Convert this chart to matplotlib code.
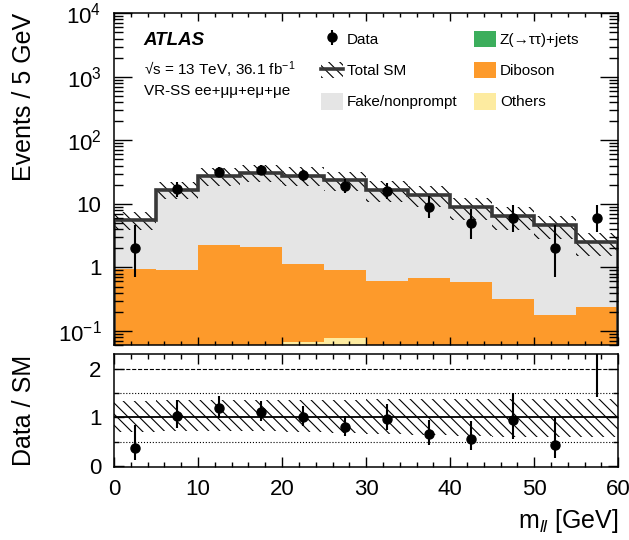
import numpy as np
import matplotlib
matplotlib.use('Agg')
import matplotlib.pyplot as plt
from matplotlib.patches import Patch
from matplotlib.lines import Line2D
from matplotlib.ticker import MultipleLocator, FixedLocator, LogLocator, NullFormatter

plt.rcParams['font.family'] = ['Liberation Sans', 'DejaVu Sans']
plt.rcParams['mathtext.fontset'] = 'custom'
plt.rcParams['mathtext.rm'] = 'Liberation Sans'
plt.rcParams['mathtext.it'] = 'Liberation Sans:italic'
plt.rcParams['mathtext.bf'] = 'Liberation Sans:bold'
plt.rcParams['hatch.linewidth'] = 0.8
plt.rcParams['hatch.color'] = 'black'

# m_ll binning, 5 GeV
bin_edges = [0, 5, 10, 15, 20, 25, 30, 35, 40, 45, 50, 55, 60]

# observed events and asymmetric poisson errors
data = [2, 17, 32, 34, 28, 19, 16, 9, 5, 6, 2, 6]
data_err_dn = [1.29, 4.08, 5.62, 5.80, 5.25, 4.32, 3.95, 2.96, 2.16, 2.40, 1.29, 2.40]
data_err_up = [2.64, 5.20, 6.72, 6.89, 6.36, 5.44, 5.08, 4.11, 3.38, 3.58, 2.64, 3.58]

# background expectations (stacked bottom -> top: others, ztt, diboson, fake)
others = [0.01, 0.01, 0.03, 0.04, 0.067, 0.075, 0.04, 0.03, 0.02, 0.01, 0.01, 0.01]
ztautau = [0.0, 0.0, 0.0, 0.0, 0.0, 0.0, 0.0, 0.0, 0.0, 0.0, 0.0, 0.0]
diboson = [0.93, 0.91, 2.23, 2.04, 1.063, 0.835, 0.56, 0.65, 0.57, 0.31, 0.17, 0.224]
fake = [4.56, 15.5, 24.7, 28.4, 26.6, 22.8, 15.9, 13.1, 8.4, 6.1, 4.47, 2.32]

# relative uncertainty on total SM
sm_rel_up = [0.33, 0.35, 0.35, 0.35, 0.36, 0.36, 0.37, 0.37, 0.37, 0.37, 0.38, 0.38]
sm_rel_dn = [0.30, 0.28, 0.28, 0.28, 0.30, 0.32, 0.34, 0.36, 0.38, 0.40, 0.40, 0.40]

edges = np.array(bin_edges, dtype=float)
centers = 0.5 * (edges[1:] + edges[:-1])
data = np.array(data, dtype=float)
err_dn = np.array(data_err_dn)
err_up = np.array(data_err_up)

stack = [('Others', others, '#fdeba0'),
         ('Z(→ττ)+jets', ztautau, '#3cae5c'),
         ('Diboson', diboson, '#fd9a2b'),
         ('Fake/nonprompt', fake, '#e5e5e5')]

total = np.sum([np.array(s[1]) for s in stack], axis=0)
up = total * (1 + np.array(sm_rel_up))
dn = total * (1 - np.array(sm_rel_dn))

fig = plt.figure(figsize=(6.29, 5.40), dpi=100)
ax = fig.add_axes([0.1812, 0.3611, 0.8018, 0.6143])
ax2 = fig.add_axes([0.1812, 0.1357, 0.8018, 0.2081])

# stacked histogram
base = np.full(len(total), 1e-3)
for name, vals, col in stack:
    top = base + np.array(vals)
    ax.stairs(top, edges, baseline=base, fill=True, color=col, lw=0)
    base = top

ax.stairs(up, edges, baseline=dn, fill=True, facecolor='none',
          edgecolor='black', hatch='\\\\\\', lw=0)
ax.stairs(total, edges, baseline=1e-3, color='#383838', lw=2.6)

h_data = ax.errorbar(centers, data, yerr=[err_dn, err_up], fmt='o', color='black',
                     ms=6.5, elinewidth=1.5, capsize=0, zorder=5)

ax.set_yscale('log')
ax.set_xlim(0, 60)
ax.set_ylim(0.06, 1e4)
ax.yaxis.set_major_locator(FixedLocator([0.1, 1, 10, 100, 1000, 10000]))
ax.set_yticklabels([r'$10^{-1}$', '1', '10', r'$10^{2}$', r'$10^{3}$', r'$10^{4}$'])
ax.yaxis.set_minor_locator(LogLocator(base=10, subs=np.arange(2, 10)))
ax.yaxis.set_minor_formatter(NullFormatter())
ax.xaxis.set_major_locator(MultipleLocator(10))
ax.xaxis.set_minor_locator(MultipleLocator(2))
ax.tick_params(axis='x', labelbottom=False)

for a in (ax, ax2):
    a.tick_params(which='both', direction='in', top=True, right=True, width=1.0,
                  labelsize=16, pad=9)
    for sp in a.spines.values():
        sp.set_linewidth(1.1)
ax.tick_params(axis='y', which='major', length=13)
ax.tick_params(axis='y', which='minor', length=6.5)
ax.tick_params(axis='x', which='major', length=6)
ax.tick_params(axis='x', which='minor', length=3)

ax.set_ylabel('Events / 5 GeV', fontsize=18, loc='top')
ax.yaxis.set_label_coords(-0.155, 1.0)

# ATLAS label
ax.text(0.0575, 0.917, 'ATLAS', transform=ax.transAxes, fontsize=13.5,
        fontweight='bold', fontstyle='italic', va='center')
ax.text(0.06, 0.829, '√s = 13 TeV, 36.1 fb$^{-1}$', transform=ax.transAxes,
        fontsize=11, va='center')
ax.text(0.06, 0.766, 'VR-SS ee+μμ+eμ+μe', transform=ax.transAxes,
        fontsize=11, va='center')

# legend
h_sm = (Patch(facecolor='none', edgecolor='black', hatch='\\\\\\', lw=0),
        Line2D([], [], color='#383838', lw=2.6))
h_fake = Patch(facecolor=stack[3][2], lw=0)
h_ztt = Patch(facecolor=stack[1][2], lw=0)
h_dib = Patch(facecolor=stack[2][2], lw=0)
h_oth = Patch(facecolor=stack[0][2], lw=0)
ax.legend([h_data, h_sm, h_fake, h_ztt, h_dib, h_oth],
          ['Data', 'Total SM', 'Fake/nonprompt', stack[1][0], 'Diboson', 'Others'],
          ncol=2, loc='upper left', bbox_to_anchor=(0.41, 0.9476), frameon=False,
          fontsize=11, handlelength=1.44, handleheight=1.3, labelspacing=0.95,
          handletextpad=0.25, columnspacing=1.1, borderpad=0, borderaxespad=0)

# ratio panel
ratio_ymax = 2.3
ratio = data / total
ax2.stairs(1 + np.array(sm_rel_up), edges, baseline=1 - np.array(sm_rel_dn), fill=True,
           facecolor='none', edgecolor='black', hatch='\\\\\\', lw=0)
ax2.axhline(1, color='black', lw=1.3)
ax2.axhline(2, color='black', lw=0.8, ls='--')
ax2.axhline(0.5, color='black', lw=0.8, ls=':')
ax2.axhline(1.5, color='black', lw=0.8, ls=':')
ax2.errorbar(centers, ratio, yerr=[err_dn / total, err_up / total], fmt='none',
             ecolor='black', elinewidth=1.5, capsize=0, zorder=5)
inside = ratio < ratio_ymax
ax2.plot(centers[inside], ratio[inside], 'o', color='black', ms=6.5, zorder=6)
ax2.set_xlim(0, 60)
ax2.set_ylim(-0.02, ratio_ymax)
ax2.yaxis.set_major_locator(FixedLocator([0, 1, 2]))
ax2.yaxis.set_minor_locator(MultipleLocator(0.5))
ax2.xaxis.set_major_locator(MultipleLocator(10))
ax2.xaxis.set_minor_locator(MultipleLocator(2))
ax2.tick_params(which='major', length=7)
ax2.tick_params(which='minor', length=3.5)
ax2.set_ylabel('Data / SM', fontsize=18)
ax2.yaxis.set_label_coords(-0.155, 0.5)
ax2.set_xlabel(r'm$_{ll}$ [GeV]', fontsize=18, loc='right')
ax2.xaxis.set_label_coords(1.0, -0.36)

fig.savefig('out.png', dpi=100)
